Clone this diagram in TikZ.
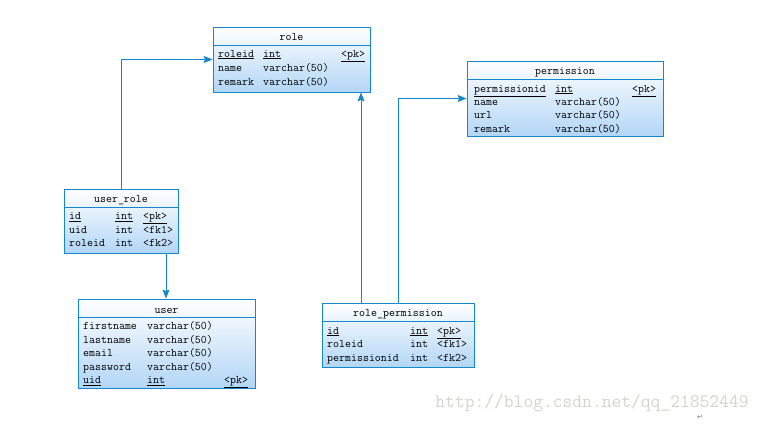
\documentclass[tikz,border=0pt]{standalone}
\usepackage{fontspec}
\usepackage{tikz}
\usetikzlibrary{arrows.meta,positioning,calc}
\newfontfamily\symfont{DejaVu Sans}
\definecolor{erdblue}{RGB}{20,135,205}
\definecolor{erdfill}{RGB}{178,214,246}
\definecolor{markgrey}{RGB}{212,212,204}
\newcommand{\fld}[2]{\makebox[#1pt][l]{#2}}
\newcommand{\ul}[1]{\underline{#1}}

\begin{document}
\begin{tikzpicture}[
  x=1pt, y=-1pt,
  font=\ttfamily\fontsize{11.6}{12}\selectfont,
  tbl/.style={draw=erdblue, line width=0.8pt, top color=white, bottom color=erdfill, inner sep=0pt},
  hdr/.style={anchor=base, inner sep=0pt},
  fieldrow/.style={anchor=base west, inner sep=0pt},
  hline/.style={draw=erdblue, line width=0.8pt},
  fk/.style={-{Stealth[length=9pt, width=7pt, inset=1.5pt]}, draw=erdblue, line width=0.8pt}
]
\useasboundingbox (0,0) rectangle (763,423);
% ---- tables -----------------------------------------------------------------
\node[tbl, minimum width=157pt, minimum height=65pt] (role) at (291.5,59.5) {};
\node[hdr] (roleh) at (291.5,40) {role};
\draw[hline] (213,45) -- (370,45);
\node[fieldrow] (role1) at (218,57) {\fld{45}{\ul{roleid}}\fld{78}{\ul{int}}\ul{<pk>}};
\node[fieldrow] (role2) at (218,71) {\fld{45}{name}varchar(50)};
\node[fieldrow] (role3) at (218,85) {\fld{45}{remark}varchar(50)};

\node[tbl, minimum width=196pt, minimum height=75pt] (perm) at (565,98.5) {};
\node[hdr] (permh) at (565,74) {permission};
\draw[hline] (467,79) -- (663,79);
\node[fieldrow] (perm1) at (474,92) {\fld{81}{\ul{permissionid}}\fld{77}{\ul{int}}\ul{<pk>}};
\node[fieldrow] (perm2) at (474,105) {\fld{81}{name}varchar(50)};
\node[fieldrow] (perm3) at (474,118.5) {\fld{81}{url}varchar(50)};
\node[fieldrow] (perm4) at (474,132) {\fld{81}{remark}varchar(50)};

\node[tbl, minimum width=114pt, minimum height=64pt] (urole) at (121,221) {};
\node[hdr] (uroleh) at (121,202) {user\_role};
\draw[hline] (64,207) -- (178,207);
\node[fieldrow] (urole1) at (69,219.5) {\fld{46}{\ul{id}}\fld{28}{\ul{int}}\ul{<pk>}};
\node[fieldrow] (urole2) at (69,233) {\fld{46}{uid}\fld{28}{int}<fk1>};
\node[fieldrow] (urole3) at (69,246.5) {\fld{46}{roleid}\fld{28}{int}<fk2>};

\node[tbl, minimum width=177pt, minimum height=89pt] (user) at (166.5,343.5) {};
\node[hdr] (userh) at (166.5,313) {user};
\draw[hline] (78,317) -- (255,317);
\node[fieldrow] (user1) at (83,329.5) {\fld{64}{firstname}varchar(50)};
\node[fieldrow] (user2) at (83,343) {\fld{64}{lastname}varchar(50)};
\node[fieldrow] (user3) at (83,356.5) {\fld{64}{email}varchar(50)};
\node[fieldrow] (user4) at (83,370) {\fld{64}{password}varchar(50)};
\node[fieldrow] (user5) at (83,383.5) {\fld{64}{\ul{uid}}\fld{77}{\ul{int}}\ul{<pk>}};

\node[tbl, minimum width=152pt, minimum height=64pt] (rperm) at (398,335) {};
\node[hdr] (rpermh) at (398,316) {role\_permission};
\draw[hline] (322,321) -- (474,321);
\node[fieldrow] (rperm1) at (327,334) {\fld{83}{\ul{id}}\fld{27}{\ul{int}}\ul{<pk>}};
\node[fieldrow] (rperm2) at (327,347.5) {\fld{83}{roleid}\fld{27}{int}<fk1>};
\node[fieldrow] (rperm3) at (327,361) {\fld{83}{permissionid}\fld{27}{int}<fk2>};

% ---- watermark --------------------------------------------------------------
\node[text=markgrey, font=\ttfamily\fontsize{19}{20}\selectfont, inner sep=0pt] (mark)
  at (592,403) {http://blog.csdn.net/qq\_21852449};
\node[text=black!55, font=\symfont\fontsize{7}{7}\selectfont, inner sep=0pt] (ret)
  at (700,417) {↵};

% ---- references -------------------------------------------------------------
\draw[fk] (urole.north) |- (role.west);
\draw[fk] ([xshift=45pt]urole.south) -- ([xshift=45pt]urole.south |- user.north);
\draw[fk] ([xshift=-37pt]rperm.north) -- ([xshift=-37pt]rperm.north |- role.south);
\draw[fk] (rperm.north) |- (perm.west);
\end{tikzpicture}
\end{document}
